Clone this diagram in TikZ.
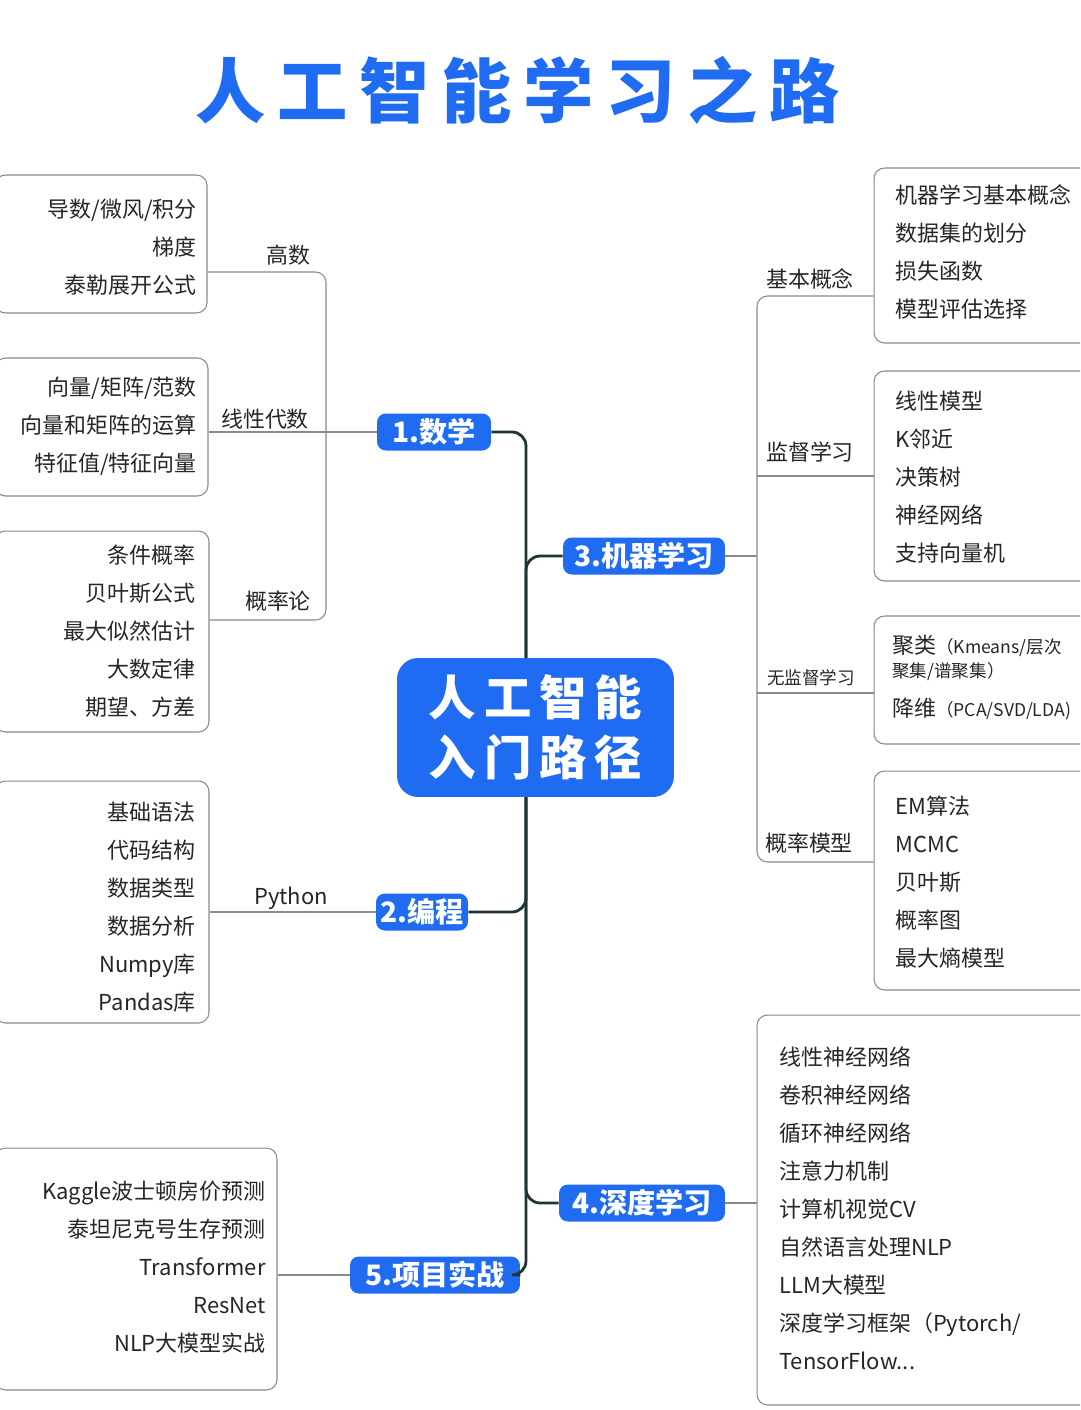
\documentclass[tikz,border=0pt]{standalone}
\usepackage{fontspec}
\setmainfont{Noto Sans CJK SC}
\usepackage{xcolor}
\definecolor{aiblue}{HTML}{1F6BF2}
\definecolor{trunkc}{HTML}{1E3538}
\definecolor{linec}{HTML}{8A8A8A}
\tikzset{
    every node/.append style={font=\fontsize{12.5}{21.6}\selectfont, text=black!85}}

\begin{document}
\begin{tikzpicture}
  [x=0.02cm,y=-0.02cm,
   cat/.style={fill=aiblue,rounded corners=5pt,inner sep=0pt,minimum height=0.74cm,
     text=white,font=\fontsize{16}{18}\bfseries\selectfont},
   leaf/.style={draw=linec,line width=0.6pt,rounded corners=6pt,inner sep=0pt},
   trunk/.style={draw=trunkc,line width=1.6pt,rounded corners=8pt},
   branch/.style={draw=linec,line width=0.6pt,rounded corners=6pt},
   lbl/.style={inner sep=0pt}]
  \clip (0,0) rectangle (1080,1410);
  \fill[white] (0,0) rectangle (1080,1410);
  \node [lbl,text=aiblue,font=\fontsize{40}{44}\bfseries\selectfont] (title) at (518,90) {人\,工\,智\,能\,学\,习\,之\,路};

  % centre and the five topics
  \node [fill=aiblue,rounded corners=12pt,minimum width=5.54cm,minimum height=2.78cm,
    text=white,align=center,font=\fontsize{27}{34}\bfseries\selectfont] (core) at (535.5,727.5) {人\,工\,智\,能\\入\,门\,路\,径};
  \node [cat,minimum width=2.28cm] (m1) at (434,432) {1.数学};
  \node [cat,minimum width=1.84cm] (m2) at (422,912) {2.编程};
  \node [cat,minimum width=3.24cm] (m3) at (644,556) {3.机器学习};
  \node [cat,minimum width=3.32cm] (m4) at (642,1203) {4.深度学习};
  \node [cat,minimum width=3.40cm] (m5) at (435,1275) {5.项目实战};
  \coordinate (jt) at (526,658);
  \coordinate (jb) at (526,797);
  \draw [trunk] (m1.east) -| (jt);
  \draw [trunk] (m3.west) -| (jt);
  \draw [trunk] (m2.east) -| (jb);
  \draw [trunk] (m4.west) -| (jb);
  \draw [trunk] (m5.east) -| (jb);

  % left leaves
  \node [leaf,minimum width=4.24cm,minimum height=2.76cm] (b1) at (101,244) {};
  \node [leaf,minimum width=4.26cm,minimum height=2.76cm] (b2) at (101.5,427) {};
  \node [leaf,minimum width=4.28cm,minimum height=4.02cm] (b3) at (102,631.5) {};
  \node [leaf,minimum width=4.28cm,minimum height=4.84cm] (pg) at (102,902) {};
  \node [leaf,minimum width=5.64cm,minimum height=4.84cm] (pj) at (136,1269) {};
  \node [lbl,align=right,anchor=east] (t1) at (197,247) {导数/微风/积分\\梯度\\泰勒展开公式};
  \node [lbl,align=right,anchor=east] (t2) at (197,426) {向量/矩阵/范数\\向量和矩阵的运算\\特征值/特征向量};
  \node [lbl,align=right,anchor=east] (t3) at (196,631) {条件概率\\贝叶斯公式\\最大似然估计\\大数定律\\期望、方差};
  \node [lbl,align=right,anchor=east] (t4) at (196,907) {基础语法\\代码结构\\数据类型\\数据分析\\Numpy库\\Pandas库};
  \node [lbl,align=right,anchor=east] (t5) at (266,1267) {Kaggle波士顿房价预测\\泰坦尼克号生存预测\\Transformer\\ResNet\\NLP大模型实战};

  \coordinate (gs) at (326,272);
  \coordinate (gl) at (326,620);
  \draw [branch] (b1.east |- gs) -- (gs) -- (gl) -- (b3.east |- gl);
  \draw [branch] (m1.west) -- (m1.west -| b2.east);
  \draw [branch] (m2.west) -- (m2.west -| pg.east);
  \draw [branch] (m5.west) -- (m5.west -| pj.east);
  \node [lbl] (l1) at (288,255) {高数};
  \node [lbl] (l2) at (265,419) {线性代数};
  \node [lbl] (l3) at (278,601) {概率论};
  \node [lbl] (l4) at (291,898) {Python};

  % right leaves
  \node [leaf,minimum width=4.32cm,minimum height=3.50cm] (r1) at (982,255.5) {};
  \node [leaf,minimum width=4.32cm,minimum height=4.20cm] (r2) at (982,476) {};
  \node [leaf,minimum width=4.32cm,minimum height=2.56cm] (r3) at (982,680) {};
  \node [leaf,minimum width=4.32cm,minimum height=4.38cm] (r4) at (982,880.5) {};
  \node [leaf,minimum width=6.66cm,minimum height=7.80cm] (dl) at (923.5,1210) {};
  \node [lbl,align=left,anchor=west] (s1) at (895,252) {机器学习基本概念\\数据集的划分\\损失函数\\模型评估选择};
  \node [lbl,align=left,anchor=west] (s2) at (895,477) {线性模型\\K邻近\\决策树\\神经网络\\支持向量机};
  \node [lbl,anchor=west] (s3a) at (892,646) {聚类{\fontsize{10}{12}\selectfont（Kmeans/层次}};
  \node [lbl,anchor=west,font=\fontsize{10}{12}\selectfont] (s3b) at (892,672) {聚集/谱聚集）};
  \node [lbl,anchor=west] (s3c) at (892,709) {降维{\fontsize{10}{12}\selectfont（PCA/SVD/LDA)}};
  \node [lbl,align=left,anchor=west] (s4) at (895,882) {EM算法\\MCMC\\贝叶斯\\概率图\\最大熵模型};
  \node [lbl,align=left,anchor=west] (s5) at (779,1208) {线性神经网络\\卷积神经网络\\循环神经网络\\注意力机制\\计算机视觉CV\\自然语言处理NLP\\LLM大模型\\深度学习框架（Pytorch/\\TensorFlow...};

  \coordinate (jc) at (757,296);
  \coordinate (gm) at (757,862);
  \coordinate (wj) at (757,693);
  \draw [branch] (r1.west |- jc) -- (jc) -- (gm) -- (r4.west |- gm);
  \draw [branch] (m3.east) -- (m3.east -| jc);
  \draw [branch] (r2.west) -- (r2.west -| jc);
  \draw [branch] (wj) -- (wj -| r3.west);
  \draw [branch] (m4.east) -- (m4.east -| dl.west);
  \node [lbl] (k1) at (810,279) {基本概念};
  \node [lbl] (k2) at (810,452) {监督学习};
  \node [lbl,font=\fontsize{10}{12}\selectfont] (k3) at (811,678) {无监督学习};
  \node [lbl] (k4) at (809,843) {概率模型};
\end{tikzpicture}
\end{document}
